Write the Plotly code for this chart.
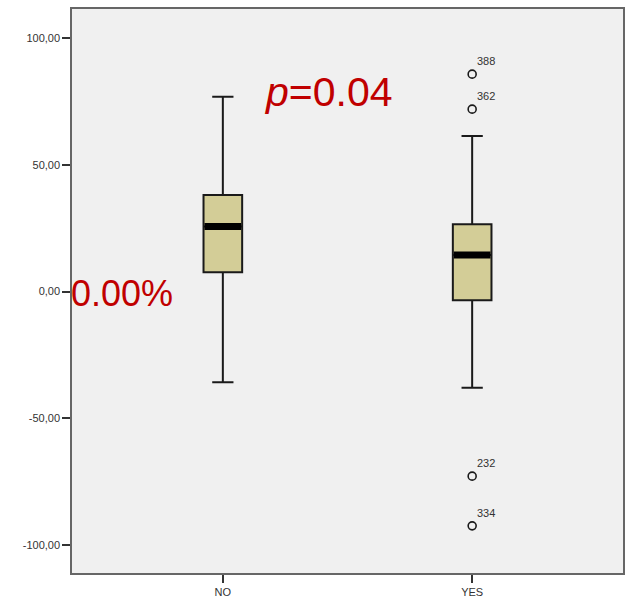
import plotly.graph_objects as go

# ---- data ----
groups = ["NO", "YES"]
group_pos = [0, 1]
q1 = [7.6, -3.4]
median = [25.6, 14.4]
q3 = [38.1, 26.5]
lower_whisker = [-35.8, -38.0]
upper_whisker = [76.8, 61.3]

outlier_group = [1, 1, 1, 1]
outlier_values = [85.7, 71.9, -72.8, -92.4]
outlier_ids = ["388", "362", "232", "334"]

y_tick_vals = [100, 50, 0, -50, -100]
y_tick_text = ["100,00", "50,00", "0,00", "-50,00", "-100,00"]

box_w = 0.155

fig = go.Figure()

for i, g in enumerate(groups):
    fig.add_trace(go.Box(
        x=[group_pos[i]],
        q1=[q1[i]], median=[median[i]], q3=[q3[i]],
        lowerfence=[lower_whisker[i]], upperfence=[upper_whisker[i]],
        width=box_w,
        whiskerwidth=0.55,
        fillcolor="#D3CD97",
        line=dict(color="#1a1a1a", width=2),
        boxpoints=False,
        showlegend=False,
        hoverinfo="skip",
    ))
    # thick median bar
    fig.add_trace(go.Scatter(
        x=[group_pos[i] - box_w / 2 + 0.004, group_pos[i] + box_w / 2 - 0.004],
        y=[median[i], median[i]],
        mode="lines",
        line=dict(color="#000000", width=7),
        showlegend=False,
        hoverinfo="skip",
    ))

fig.add_trace(go.Scatter(
    x=[group_pos[g] for g in outlier_group],
    y=outlier_values,
    mode="markers",
    marker=dict(symbol="circle-open", size=8, color="#1a1a1a", line=dict(width=1.6)),
    showlegend=False,
    hoverinfo="skip",
))

for g, v, t in zip(outlier_group, outlier_values, outlier_ids):
    fig.add_annotation(
        x=group_pos[g], y=v, text=t, showarrow=False,
        xanchor="left", yanchor="middle", xshift=3, yshift=13,
        font=dict(family="Liberation Sans, Arial", size=11, color="#333333"),
    )

fig.add_annotation(
    xref="paper", yref="y", x=0.0, y=0, text="0.00%", showarrow=False,
    xanchor="left", yanchor="middle", yshift=-2, xshift=-3,
    font=dict(family="Liberation Sans, Arial", size=36, color="#C00000"),
)
fig.add_annotation(
    xref="x", yref="y", x=0.17, y=78.5, text="<i>p</i>=0.04", showarrow=False,
    xanchor="left", yanchor="middle", xshift=-3,
    font=dict(family="Liberation Sans, Arial", size=41, color="#C00000"),
)

fig.update_layout(
    width=628, height=603,
    margin=dict(l=72, r=3, t=9, b=30),
    paper_bgcolor="white",
    plot_bgcolor="#F0F0F0",
    showlegend=False,
    xaxis=dict(
        range=[-0.605, 1.605],
        tickmode="array", tickvals=group_pos, ticktext=groups,
        showgrid=False, zeroline=False,
        showline=True, linecolor="#666666", linewidth=1.5, mirror=True,
        ticks="outside", ticklen=8, tickcolor="#333333", tickwidth=1.5,
        tickfont=dict(family="Liberation Sans, Arial", size=11, color="#333333"),
    ),
    yaxis=dict(
        range=[-111.0, 111.4],
        tickmode="array", tickvals=y_tick_vals, ticktext=y_tick_text,
        showgrid=False, zeroline=False,
        showline=True, linecolor="#666666", linewidth=1.5, mirror=True,
        ticks="outside", ticklen=8, tickcolor="#333333", tickwidth=1.5,
        tickfont=dict(family="Liberation Sans, Arial", size=11, color="#333333"),
    ),
)

fig.write_html("out.html")
